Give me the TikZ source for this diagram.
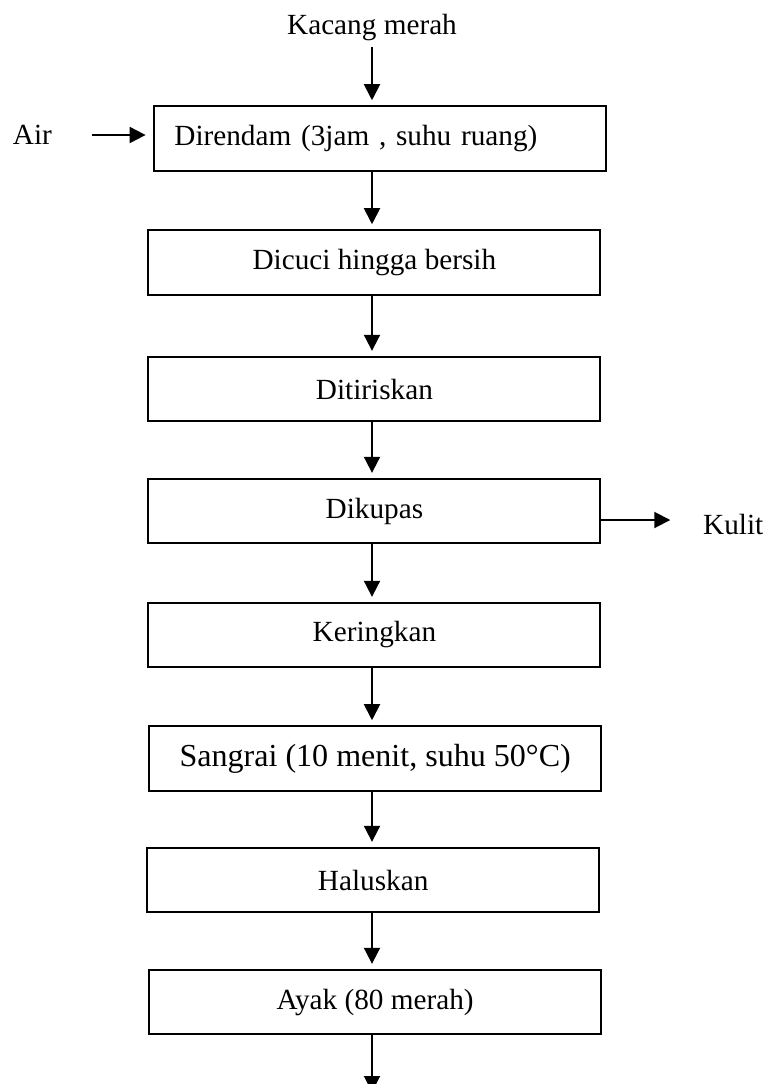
\documentclass[tikz,border=0pt]{standalone}
\usepackage{fontspec}
\setmainfont{Liberation Serif}
\usetikzlibrary{arrows.meta}

\begin{document}
\begin{tikzpicture}[line width=1.4pt,
	stage/.style={rectangle, draw, text centered, minimum width=11.3cm, minimum height=1.62cm, font=\fontsize{20.8pt}{25pt}\selectfont},
	label/.style={font=\fontsize{20.8pt}{25pt}\selectfont},
	flow/.style={-{Triangle[length=4mm,width=4mm]}, shorten >=1.2mm}]
		
		\useasboundingbox (0,0) rectangle (19.2,-27.1);
		
		%Inputs and outputs
		\node (kacang) at (9.3,-0.69) [label]{Kacang merah};
		\node (air) at (0.81,-3.375) [label]{Air};
		\node (kulit) at (18.33,-13.1) [label]{Kulit};
		
		%Process steps
		\node (rendam) at (9.49,-3.46) [stage, text width=10.26cm, inner xsep=0.52cm, align=left]{Direndam (3jam , suhu ruang)};
		
		\node (cuci) at (9.36,-6.56) [stage]{Dicuci hingga bersih};
		
		\node (tiris) at (9.36,-9.725) [stage]{Ditiriskan};
		
		\node (kupas) at (9.36,-12.775) [stage]{Dikupas};
		
		\node (kering) at (9.36,-15.875) [stage]{Keringkan};
		
		\node (sangrai) at (9.38,-18.96) [stage, font=\fontsize{22.8pt}{27pt}\selectfont]{Sangrai (10 menit, suhu 50°C)};
		
		\node (halus) at (9.33,-22.0) [stage]{Haluskan};
		
		\node (ayak) at (9.38,-25.05) [stage]{Ayak (80 merah)};
		
		\coordinate (hasil) at (9.3,-27.3);
		
		%Links
		\draw[flow] (kacang) to (kacang |- rendam.north);
		\draw[flow, shorten <=0.85cm, shorten >=1.75mm] (air.east) to (air.east -| rendam.west);
		
		\draw[flow] (rendam.south -| kacang) to (cuci.north -| kacang);
		\draw[flow] (cuci.south -| kacang) to (tiris.north -| kacang);
		\draw[flow] (tiris.south -| kacang) to (kupas.north -| kacang);
		\draw[flow] (kupas.south -| kacang) to (kering.north -| kacang);
		\draw[flow] (kering.south -| kacang) to (sangrai.north -| kacang);
		\draw[flow] (sangrai.south -| kacang) to (halus.north -| kacang);
		\draw[flow] (halus.south -| kacang) to (ayak.north -| kacang);
		\draw[flow, shorten >=0pt] (ayak.south -| kacang) to (hasil);
		
		\draw[flow, shorten >=0.68cm] ([yshift=0.1cm]kupas.east |- kulit.west) to ([yshift=0.1cm]kulit.west);
		
\end{tikzpicture}
\end{document}
